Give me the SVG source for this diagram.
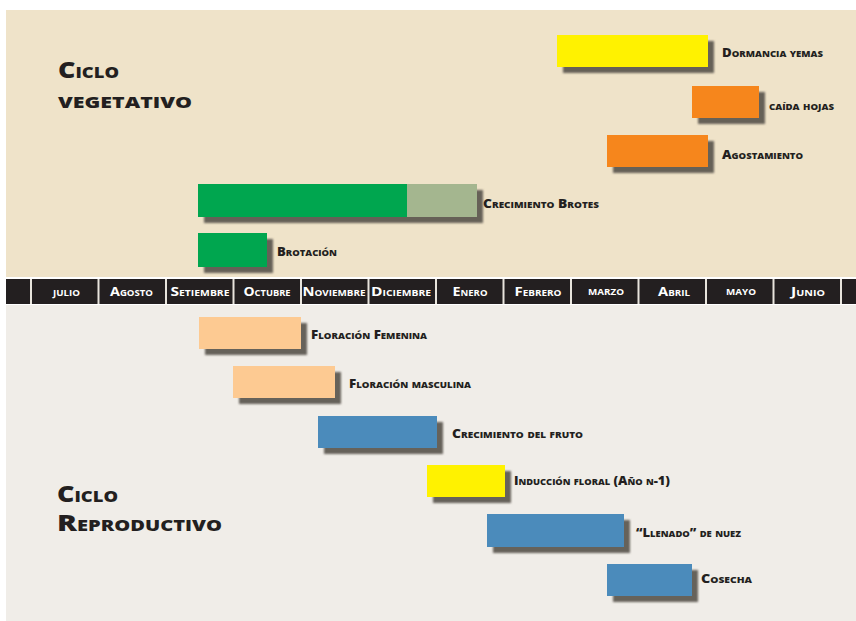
<svg xmlns="http://www.w3.org/2000/svg" width="856" height="621" viewBox="0 0 856 621">
<style>
.lbl{font-family:"Open Sans","DejaVu Sans",sans-serif;font-weight:800;font-size:12.5px;font-variant:small-caps;fill:#231f20}
.mon{font-family:"Open Sans","DejaVu Sans",sans-serif;font-weight:bold;font-size:12px;font-variant:small-caps;fill:#ffffff;text-anchor:middle}
.ttl{font-family:"Open Sans","DejaVu Sans",sans-serif;font-weight:800;font-size:22px;font-variant:small-caps;fill:#231f20}
.sep{stroke:#e8e4dc;stroke-width:2}
.yel{fill:#fff200}.ora{fill:#f6861f}.grn{fill:#00a650}.sage{fill:#a4b68f}.pch{fill:#fdca92}.blu{fill:#4b8bbb}
</style>
<defs>
<filter id="sh" x="-10%" y="-30%" width="130%" height="180%">
<feDropShadow dx="6" dy="6" stdDeviation="1.3" flood-color="#57524b" flood-opacity="0.9"/>
</filter>
</defs>
<rect x="0" y="0" width="856" height="621" fill="#ffffff"/>
<rect x="6" y="10" width="850" height="267" fill="#efe3c9"/>
<rect x="6" y="305" width="850" height="316" fill="#f0ede8"/>
<g id="months">
<rect x="6" y="279" width="850" height="25" fill="#231f20"/>
<line class="sep" x1="31" y1="279" x2="31" y2="304"/>
<line class="sep" x1="98.5" y1="279" x2="98.5" y2="304"/>
<line class="sep" x1="166" y1="279" x2="166" y2="304"/>
<line class="sep" x1="233.5" y1="279" x2="233.5" y2="304"/>
<line class="sep" x1="301" y1="279" x2="301" y2="304"/>
<line class="sep" x1="368.5" y1="279" x2="368.5" y2="304"/>
<line class="sep" x1="436" y1="279" x2="436" y2="304"/>
<line class="sep" x1="503.5" y1="279" x2="503.5" y2="304"/>
<line class="sep" x1="571" y1="279" x2="571" y2="304"/>
<line class="sep" x1="638.5" y1="279" x2="638.5" y2="304"/>
<line class="sep" x1="706" y1="279" x2="706" y2="304"/>
<line class="sep" x1="773.5" y1="279" x2="773.5" y2="304"/>
<line class="sep" x1="841" y1="279" x2="841" y2="304"/>
<text class="mon" x="66.5" y="296" textLength="27" lengthAdjust="spacingAndGlyphs">julio</text>
<text class="mon" x="131.5" y="296" textLength="43" lengthAdjust="spacingAndGlyphs">Agosto</text>
<text class="mon" x="200" y="296" textLength="59" lengthAdjust="spacingAndGlyphs">Setiembre</text>
<text class="mon" x="267" y="296" textLength="47" lengthAdjust="spacingAndGlyphs">Octubre</text>
<text class="mon" x="334" y="296" textLength="63" lengthAdjust="spacingAndGlyphs">Noviembre</text>
<text class="mon" x="401" y="296" textLength="60" lengthAdjust="spacingAndGlyphs">Diciembre</text>
<text class="mon" x="470" y="296" textLength="35" lengthAdjust="spacingAndGlyphs">Enero</text>
<text class="mon" x="538" y="296" textLength="47" lengthAdjust="spacingAndGlyphs">Febrero</text>
<text class="mon" x="606" y="295" textLength="36" lengthAdjust="spacingAndGlyphs">marzo</text>
<text class="mon" x="674" y="296" textLength="32" lengthAdjust="spacingAndGlyphs">Abril</text>
<text class="mon" x="741" y="295" textLength="30" lengthAdjust="spacingAndGlyphs">mayo</text>
<text class="mon" x="808" y="296" textLength="34" lengthAdjust="spacingAndGlyphs">Junio</text>
</g>
<g id="title-vegetativo">
<text class="ttl" x="58" y="78" textLength="61" lengthAdjust="spacingAndGlyphs">Ciclo</text>
<text class="ttl" x="58" y="108" textLength="134" lengthAdjust="spacingAndGlyphs">vegetativo</text>
</g>
<g id="title-reproductivo">
<text class="ttl" x="57" y="502" textLength="61" lengthAdjust="spacingAndGlyphs">Ciclo</text>
<text class="ttl" x="57" y="531" textLength="165" lengthAdjust="spacingAndGlyphs">Reproductivo</text>
</g>
<g id="dormancia-yemas">
<rect class="yel" x="557" y="35" width="151" height="32" filter="url(#sh)"/>
<text class="lbl" x="722" y="57" textLength="101" lengthAdjust="spacingAndGlyphs">Dormancia yemas</text>
</g>
<g id="caida-hojas">
<rect class="ora" x="692" y="86" width="67" height="32" filter="url(#sh)"/>
<text class="lbl" x="769" y="110" textLength="65" lengthAdjust="spacingAndGlyphs">caída hojas</text>
</g>
<g id="agostamiento">
<rect class="ora" x="607" y="135" width="101" height="32" filter="url(#sh)"/>
<text class="lbl" x="722" y="159" textLength="81" lengthAdjust="spacingAndGlyphs">Agostamiento</text>
</g>
<g id="crecimiento-brotes">
<g filter="url(#sh)">
<rect class="grn" x="198" y="184" width="209" height="33"/>
<rect class="sage" x="407" y="184" width="70" height="33"/>
</g>
<text class="lbl" x="483" y="208" textLength="116" lengthAdjust="spacingAndGlyphs">Crecimiento Brotes</text>
</g>
<g id="brotacion">
<rect class="grn" x="198" y="233" width="69" height="34" filter="url(#sh)"/>
<text class="lbl" x="277" y="256" textLength="60" lengthAdjust="spacingAndGlyphs">Brotación</text>
</g>
<g id="floracion-femenina">
<rect class="pch" x="199" y="317" width="102" height="32" filter="url(#sh)"/>
<text class="lbl" x="311" y="339" textLength="116" lengthAdjust="spacingAndGlyphs">Floración Femenina</text>
</g>
<g id="floracion-masculina">
<rect class="pch" x="233" y="366" width="102" height="32" filter="url(#sh)"/>
<text class="lbl" x="349" y="388" textLength="122" lengthAdjust="spacingAndGlyphs">Floración masculina</text>
</g>
<g id="crecimiento-fruto">
<rect class="blu" x="318" y="416" width="119" height="32" filter="url(#sh)"/>
<text class="lbl" x="452" y="438" textLength="131" lengthAdjust="spacingAndGlyphs">Crecimiento del fruto</text>
</g>
<g id="induccion-floral">
<rect class="yel" x="427" y="465" width="78" height="32" filter="url(#sh)"/>
<text class="lbl" x="514" y="485" textLength="156" lengthAdjust="spacingAndGlyphs">Inducción floral (Año n-1)</text>
</g>
<g id="llenado-nuez">
<rect class="blu" x="487" y="514" width="137" height="33" filter="url(#sh)"/>
<text class="lbl" x="636" y="537" textLength="105" lengthAdjust="spacingAndGlyphs">“Llenado” de nuez</text>
</g>
<g id="cosecha">
<rect class="blu" x="607" y="564" width="85" height="32" filter="url(#sh)"/>
<text class="lbl" x="701" y="583" textLength="51" lengthAdjust="spacingAndGlyphs">Cosecha</text>
</g>
<g id="connectors"/>
</svg>
